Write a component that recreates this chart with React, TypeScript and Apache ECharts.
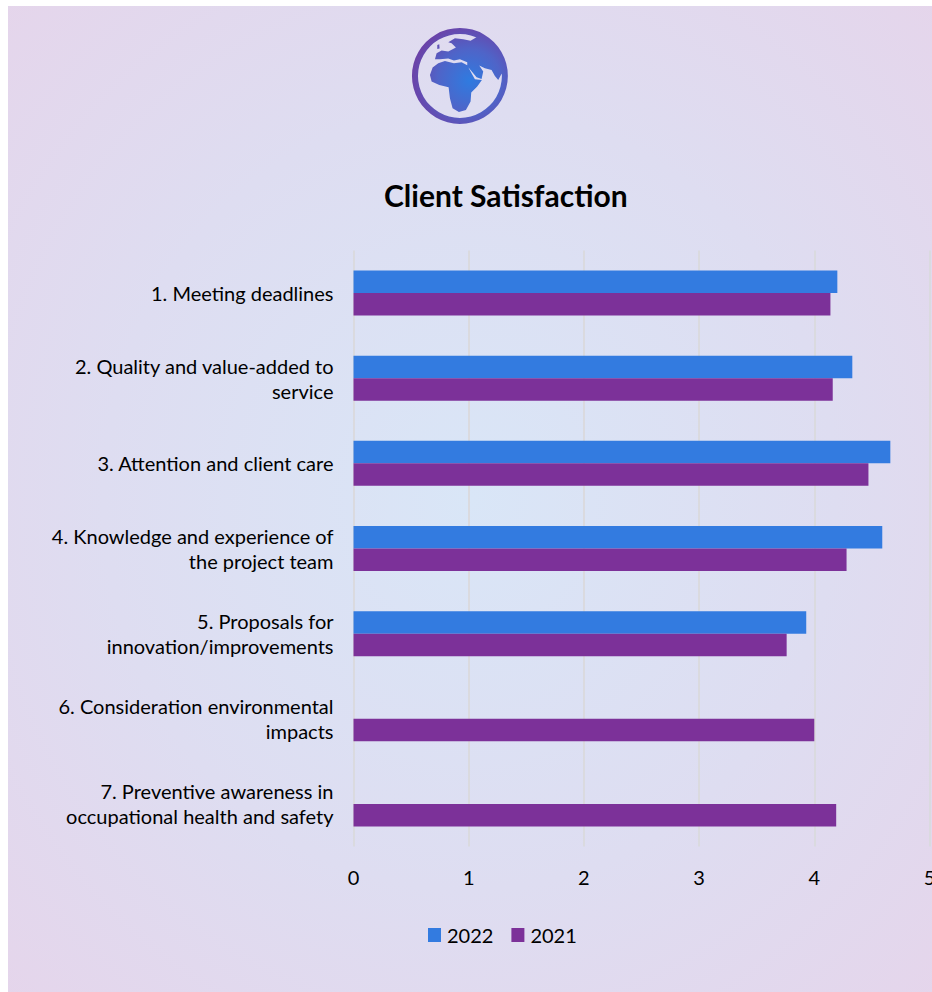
import React, { useEffect, useRef } from "react";
import * as echarts from "echarts";

const categories = [
  "1. Meeting deadlines",
  "2. Quality and value-added to\nservice",
  "3. Attention and client care",
  "4. Knowledge and experience of\nthe project team",
  "5. Proposals for\ninnovation/improvements",
  "6. Consideration environmental\nimpacts",
  "7. Preventive awareness in\noccupational health and safety",
];
const values2022 = [4.2, 4.33, 4.66, 4.59, 3.93, null, null];
const values2021 = [4.14, 4.16, 4.47, 4.28, 3.76, 4.0, 4.19];

// Globe emblem: ring plus land masses, drawn on a 480x420 artboard.
const globePath =
  "M240 84 A144 144 0 1 1 239.9 84 Z " +
  "M240 102 A126 126 0 1 0 240.1 102 Z " +
  "M150 225 L158 203 L175 190 L195 183 L222 190 L245 187 L262 196 L272 215 L285 238 L306 240 L292 260 L274 278 L272 305 L258 330 L237 336 L218 325 L210 295 L206 262 L178 255 L155 245 Z " +
  "M292 110 A130 130 0 0 1 370 205 L366 220 L355 240 L345 228 L335 210 L315 205 L298 197 L310 215 L305 237 L290 232 L262 198 L262 187 L240 178 L222 182 L205 176 L180 178 L165 178 L170 160 L185 152 L205 155 L228 143 L215 130 L205 127 L225 115 L250 118 L272 122 Z " +
  "M172 135 L178 133 L179 146 L172 147 Z";
echarts.graphic.registerShape("globe", echarts.graphic.extendPath(globePath, {}));

export default function App() {
  const ref = useRef<HTMLDivElement>(null);
  useEffect(() => {
    const chart = echarts.init(ref.current!, null, { renderer: "svg" });
    const font = "Lato, Carlito, sans-serif";
    chart.setOption({
      animation: false,
      backgroundColor: {
        type: "radial",
        x: 0.5,
        y: 0.5,
        r: 0.72,
        colorStops: [
          { offset: 0, color: "#D9E6F7" },
          { offset: 0.55, color: "#DEDDF1" },
          { offset: 1, color: "#E5D5EB" },
        ],
      },
      textStyle: { fontFamily: font },
      title: {
        text: "Client Satisfaction",
        left: 371,
        top: 169,
        textStyle: { fontFamily: font, fontSize: 30, fontWeight: "bold", color: "#000" },
      },
      legend: {
        left: 415,
        top: 914,
        itemWidth: 13,
        itemHeight: 14,
        itemGap: 18,
        icon: "rect",
        data: ["2022", "2021"],
        textStyle: { fontFamily: font, fontSize: 20, color: "#000", padding: [0, 0, 0, 1] },
      },
      grid: {
        left: 345.5,
        top: 244.5,
        width: 576,
        height: 596,
        containLabel: false,
        outerBoundsMode: "none",
      },
      xAxis: {
        type: "value",
        min: 0,
        max: 5,
        interval: 1,
        axisLine: { show: false },
        axisTick: { show: false },
        axisLabel: { margin: 20, fontFamily: font, fontSize: 20, color: "#000" },
        splitLine: { show: true, lineStyle: { color: "#DADADF", width: 2 } },
      },
      yAxis: {
        type: "category",
        inverse: true,
        data: categories,
        axisLine: { show: false },
        axisTick: { show: false },
        axisLabel: {
          margin: 20,
          fontFamily: font,
          fontSize: 20,
          lineHeight: 25,
          color: "#000",
          align: "right",
        },
      },
      series: [
        {
          name: "2022",
          type: "bar",
          data: values2022,
          barWidth: 22.5,
          barGap: 0,
          itemStyle: { color: "#337BE0" },
        },
        {
          name: "2021",
          type: "bar",
          data: values2021,
          barWidth: 22.5,
          barGap: 0,
          itemStyle: { color: "#7C3199" },
        },
      ],
      graphic: [
        {
          type: "globe",
          x: 372,
          y: -6,
          scaleX: 1 / 3,
          scaleY: 1 / 3,
          style: {
            fill: {
              type: "radial",
              x: 0.6,
              y: 0.55,
              r: 0.6,
              colorStops: [
                { offset: 0, color: "#2F7BE0" },
                { offset: 0.55, color: "#4F64C8" },
                { offset: 1, color: "#6B42A8" },
              ],
            },
          },
        },
      ],
    });
    return () => chart.dispose();
  }, []);
  return (
    <div
      ref={ref}
      style={{ position: "absolute", left: 8, top: 6, width: 924, height: 986 }}
    />
  );
}
